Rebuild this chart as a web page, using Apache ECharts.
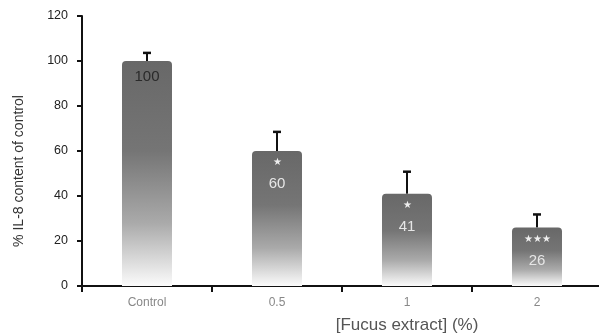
<!DOCTYPE html>
<html>
<head>
<meta charset="utf-8">
<script src="https://cdn.jsdelivr.net/npm/echarts@6/dist/echarts.min.js"></script>
<style>html,body{margin:0;padding:0;background:#fff;}#c{width:599px;height:334px;}</style>
</head>
<body>
<div id="c"></div>
<script>
const categories = ['Control', '0.5', '1', '2'];
const values = [100, 60, 41, 26];
const errorTops = [103.6, 68.5, 50.8, 31.8];
const significance = ['', '★', '★', '★★★'];
const yTicks = [0, 20, 40, 60, 80, 100, 120];

const FONT = "'Liberation Sans', Arial, sans-serif";
const chart = echarts.init(document.getElementById('c'));

const barData = values.map((v, i) => ({
  value: v,
  label: {
    formatter: significance[i] ? '{s|' + significance[i] + '}\n{n|' + v + '}' : '{d|' + v + '}'
  }
}));

chart.setOption({
  animation: false,
  grid: { left: 82, right: -3, top: 16, bottom: 48, containLabel: false, outerBoundsMode: 'none' },
  xAxis: {
    type: 'category',
    data: categories,
    name: '[Fucus extract] (%)',
    nameLocation: 'middle',
    nameGap: 31,
    nameTextStyle: { fontFamily: FONT, fontSize: 17, color: '#555', padding: [0, 0, 0, 130] },
    axisLine: { lineStyle: { color: '#111', width: 2 } },
    axisTick: { show: true, length: 6, lineStyle: { color: '#111', width: 2 } },
    axisLabel: { fontFamily: FONT, fontSize: 12, color: '#888', margin: 11 }
  },
  yAxis: {
    type: 'value',
    min: 0, max: 120, interval: 20,
    name: '% IL-8 content of control',
    nameLocation: 'middle',
    nameGap: 56,
    nameTextStyle: { fontFamily: FONT, fontSize: 14, color: '#333', padding: [0, 40, 0, 0] },
    axisLine: { show: true, lineStyle: { color: '#111', width: 2 } },
    axisTick: { show: true, length: 5, lineStyle: { color: '#111', width: 2 } },
    splitLine: { show: false },
    axisLabel: { fontFamily: FONT, fontSize: 12.5, color: '#222', margin: 14,
      formatter: v => yTicks.includes(v) ? String(v) : '' }
  },
  series: [
    {
      type: 'bar',
      data: barData,
      barWidth: 50,
      itemStyle: {
        borderRadius: [4, 4, 0, 0],
        color: new echarts.graphic.LinearGradient(0, 0, 0, 1, [
          { offset: 0, color: '#686868' },
          { offset: 0.4, color: '#757575' },
          { offset: 0.72, color: '#aaaaaa' },
          { offset: 1, color: '#fbfbfb' }
        ])
      },
      label: {
        show: true,
        position: 'insideTop',
        distance: 5,
        fontFamily: FONT,
        rich: {
          d: { fontFamily: FONT, fontSize: 15, color: '#2a2a2a', lineHeight: 22 },
          s: { fontFamily: FONT, fontSize: 10, color: '#eeeeee', lineHeight: 13 },
          n: { fontFamily: FONT, fontSize: 15, color: '#e6e6e6', lineHeight: 30 }
        }
      },
      z: 2
    },
    {
      type: 'custom',
      data: values.map((v, i) => [i, v, errorTops[i]]),
      renderItem: function (params, api) {
        const base = api.coord([api.value(0), api.value(1)]);
        const top = api.coord([api.value(0), api.value(2)]);
        return {
          type: 'group',
          children: [
            { type: 'line', shape: { x1: base[0], y1: base[1], x2: top[0], y2: top[1] },
              style: { stroke: '#111', lineWidth: 2 } },
            { type: 'line', shape: { x1: top[0] - 4, y1: top[1], x2: top[0] + 4, y2: top[1] },
              style: { stroke: '#111', lineWidth: 2.5 } }
          ]
        };
      },
      z: 1
    }
  ]
});
</script>
</body>
</html>
